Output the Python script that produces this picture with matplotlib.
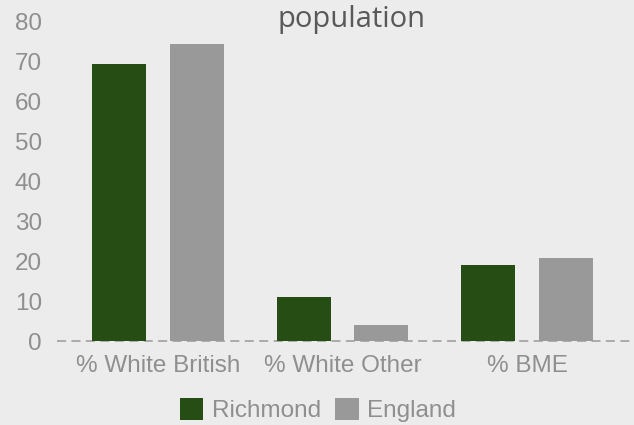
import matplotlib
matplotlib.use("Agg")
import matplotlib.pyplot as plt
import numpy as np
from matplotlib.patches import Patch

categories = ["% White British", "% White Other", "% BME"]
series_names = ["Richmond", "England"]
richmond = [69.5, 11.0, 19.0]
england = [74.5, 4.0, 20.8]
yticks = [0, 10, 20, 30, 40, 50, 60, 70, 80]
title = "population"

colors = ["#264d14", "#999999"]
bg = "#ececec"

fig = plt.figure(figsize=(6.34, 4.25), dpi=100, facecolor=bg)
ax = fig.add_axes([0.09, 1 - 341 / 425, 0.91, (341 - 22) / 425])
ax.set_facecolor(bg)

x = np.arange(len(categories))
w = 0.293
off = 0.211
ax.bar(x - off, richmond, width=w, color=colors[0], edgecolor="none", zorder=3)
ax.bar(x + off, england, width=w, color=colors[1], edgecolor="none", zorder=3)

ax.set_xlim(-0.547, 2.58)
ax.set_ylim(0, 80)
ax.set_yticks(yticks)
ax.set_xticks(x)
ax.set_xticklabels(categories)
for s in ax.spines.values():
    s.set_visible(False)
ax.axhline(0, color="#a6a6a6", linewidth=1.3, linestyle=(0, (5, 3)), zorder=2, clip_on=False)
ax.tick_params(axis="both", length=0, colors="#8c8c8c", labelsize=17.5)
ax.tick_params(axis="y", pad=11)
ax.tick_params(axis="x", pad=10)
for lab in ax.get_xticklabels() + ax.get_yticklabels():
    lab.set_fontfamily("Liberation Sans")
    lab.set_color("#8f8f8f")

fig.text(351 / 634, 1 - 20 / 425, title, ha="center", va="center",
         fontsize=21, color="#595959", fontfamily="Open Sans")

handles = [Patch(facecolor=colors[0], edgecolor="none"), Patch(facecolor=colors[1], edgecolor="none")]
leg = fig.legend(handles, series_names, loc="center", bbox_to_anchor=(318 / 634, 1 - 410 / 425),
                 ncol=2, frameon=False, handlelength=0.95, handleheight=1.0, handletextpad=0.35,
                 columnspacing=0.6, borderpad=0.0, prop={"family": "Liberation Sans", "size": 17.5})
for t in leg.get_texts():
    t.set_color("#8f8f8f")

fig.savefig("out.png", dpi=100, facecolor=bg)
